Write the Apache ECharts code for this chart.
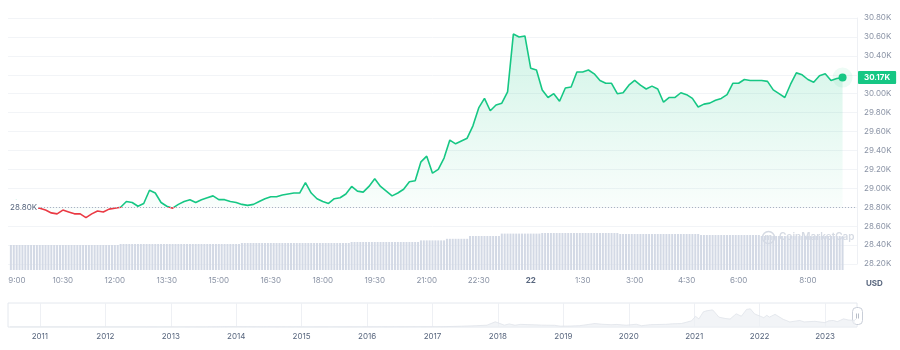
<!DOCTYPE html>
<html>
<head>
<meta charset="utf-8">
<script src="https://cdn.jsdelivr.net/npm/echarts@6/dist/echarts.min.js"></script>
<style>
  html, body { margin: 0; padding: 0; background: #fff; }
  #chart { width: 900px; height: 350px; }
</style>
</head>
<body>
<div id="chart"></div>
<script>
// BTC / USD, last 24 hours. Times are minutes after midnight of the 21st.
const priceStartMinute = 540;   // 9:00
const priceStepMinutes = 10;
// Price in thousands of USD, one sample every 10 minutes
const prices = [
  28.86, 28.87, 28.84, 28.81, 28.79, 28.79, 28.77, 28.74, 28.73, 28.77,
  28.75, 28.73, 28.73, 28.69, 28.73, 28.76, 28.75, 28.78, 28.79, 28.80,
  28.86, 28.85, 28.81, 28.84, 28.98, 28.95, 28.85, 28.81, 28.79, 28.83,
  28.86, 28.88, 28.85, 28.88, 28.90, 28.92, 28.88, 28.88, 28.86, 28.85,
  28.83, 28.82, 28.83, 28.86, 28.89, 28.91, 28.91, 28.93, 28.94, 28.95,
  28.95, 29.06, 28.95, 28.89, 28.86, 28.84, 28.89, 28.90, 28.94, 29.02,
  28.97, 28.96, 29.02, 29.10, 29.02, 28.97, 28.92, 28.95, 28.99, 29.07,
  29.08, 29.28, 29.34, 29.16, 29.20, 29.32, 29.51, 29.47, 29.50, 29.53,
  29.66, 29.85, 29.95, 29.82, 29.88, 29.90, 30.02, 30.63, 30.60, 30.61,
  30.27, 30.25, 30.04, 29.96, 30.00, 29.92, 30.06, 30.07, 30.23, 30.23,
  30.25, 30.21, 30.14, 30.11, 30.11, 30.00, 30.01, 30.09, 30.14, 30.09,
  30.05, 30.08, 30.05, 29.91, 29.96, 29.96, 30.01, 29.99, 29.95, 29.86,
  29.89, 29.90, 29.93, 29.95, 29.99, 30.11, 30.11, 30.15, 30.14, 30.14,
  30.14, 30.13, 30.04, 30.00, 29.96, 30.10, 30.22, 30.20, 30.15, 30.12,
  30.19, 30.21, 30.14, 30.16, 30.17
];
const openPrice = 28.80;

// Rolling 24h volume in billions of USD, one bar every 5 minutes
const volumeStartMinute = 540;
const volumeStepMinutes = 5;
const volumes = [
  12.5, 12.5, 12.5, 12.5, 12.5, 12.5, 12.5, 12.5, 12.5, 12.5,
  12.5, 12.5, 12.5, 12.5, 12.5, 12.5, 12.5, 12.5, 12.5, 12.5,
  12.5, 12.5, 12.5, 12.5, 12.5, 12.5, 12.5, 12.5, 12.5, 12.5,
  12.5, 12.5, 12.5, 12.5, 12.5, 12.5, 12.5, 12.5,
  13.0, 13.0, 13.0, 13.0, 13.0, 13.0, 13.0, 13.0, 13.0, 13.0,
  13.0, 13.0, 13.0, 13.0, 13.0, 13.0, 13.0, 13.0, 13.0, 13.0,
  13.0, 13.0, 13.0, 13.0, 13.0, 13.0, 13.0, 13.0, 13.0, 13.0,
  13.0, 13.0, 13.0, 13.0, 13.0, 13.0, 13.0, 13.0, 13.0, 13.0,
  13.0, 13.0,
  13.5, 13.5, 13.5, 13.5, 13.5, 13.5, 13.5, 13.5, 13.5, 13.5,
  13.5, 13.5, 13.5, 13.5, 13.5, 13.5, 13.5, 13.5, 13.5, 13.5,
  13.5, 13.5, 13.5, 13.5, 13.5, 13.5, 13.5, 13.5, 13.5, 13.5,
  13.5, 13.5, 13.5, 13.5, 13.5, 13.5, 13.5, 13.5,
  14.0, 14.0, 14.0, 14.0, 14.0, 14.0, 14.0, 14.0, 14.0, 14.0,
  14.0, 14.0, 14.0, 14.0, 14.0, 14.0, 14.0, 14.0, 14.0, 14.0,
  14.0, 14.0, 14.0, 14.0,
  14.8, 14.8, 14.8, 14.8, 14.8, 14.8, 14.8, 14.8, 14.8,
  15.6, 15.6, 15.6, 15.6, 15.6, 15.6, 15.6, 15.6,
  17.0, 17.0, 17.0, 17.0, 17.0, 17.0, 17.0, 17.0, 17.0, 17.0, 17.0,
  18.2, 18.2, 18.2, 18.2, 18.2, 18.2, 18.2, 18.2, 18.2, 18.2,
  18.2, 18.2, 18.2, 18.2,
  18.5, 18.5, 18.5, 18.5, 18.5, 18.5, 18.5, 18.5, 18.5, 18.5,
  18.5, 18.5, 18.5, 18.5, 18.5, 18.5, 18.5, 18.5, 18.5, 18.5,
  18.5, 18.5, 18.5, 18.5, 18.5, 18.5, 18.5,
  18.0, 18.0, 18.0, 18.0, 18.0, 18.0, 18.0, 18.0, 18.0, 18.0,
  18.0, 18.0, 18.0, 18.0, 18.0, 18.0, 18.0, 18.0, 18.0, 18.0,
  18.0, 18.0, 18.0, 18.0, 18.0, 18.0, 18.0, 18.0,
  17.5, 17.5, 17.5, 17.5, 17.5, 17.5, 17.5, 17.5, 17.5, 17.5,
  17.5, 17.5, 17.5, 17.5, 17.5, 17.5, 17.5, 17.5, 17.5, 17.5, 17.5,
  17.0, 17.0, 17.0, 17.0, 17.0, 17.0, 17.0, 17.0, 17.0, 17.0,
  17.0, 17.0, 17.0, 17.0, 17.0, 17.0, 17.0, 17.0, 17.0, 17.0,
  17.0, 17.0, 17.0, 17.0, 17.0, 17.0, 17.0, 17.0, 17.0
];

// Time axis ticks (minutes) and their labels
const timeTicks = [540, 630, 720, 810, 900, 990, 1080, 1170, 1260, 1350, 1440, 1530, 1620, 1710, 1800, 1920];
const timeLabels = ['9:00', '10:30', '12:00', '13:30', '15:00', '16:30', '18:00', '19:30', '21:00', '22:30', '22', '1:30', '3:00', '4:30', '6:00', '8:00'];

// Price axis ticks, thousands of USD
const priceMin = 28.2, priceMax = 30.8, priceInterval = 0.2;

// Full price history for the overview strip (USD)
const historyDates = [
  '2010-07-18', '2011-06-08', '2011-11-18', '2012-08-17', '2013-04-09', '2013-07-05', '2013-12-04',
  '2014-06-01', '2015-01-14', '2015-12-01', '2016-06-17', '2016-12-31', '2017-03-01', '2017-06-12',
  '2017-09-01', '2017-11-01', '2017-12-17', '2018-02-06', '2018-03-05', '2018-04-06', '2018-05-05',
  '2018-07-25', '2018-09-01', '2018-11-13', '2018-12-15', '2019-02-07', '2019-04-02', '2019-06-26',
  '2019-08-01', '2019-09-24', '2019-10-26', '2019-12-17', '2020-02-12', '2020-03-12', '2020-05-01',
  '2020-07-26', '2020-09-01', '2020-10-21', '2020-12-17', '2021-01-08', '2021-01-27', '2021-02-21',
  '2021-03-13', '2021-04-14', '2021-05-19', '2021-06-22', '2021-07-20', '2021-08-23', '2021-09-21',
  '2021-10-20', '2021-11-10', '2021-12-04', '2022-01-24', '2022-02-10', '2022-02-24', '2022-03-28',
  '2022-05-12', '2022-06-18', '2022-08-13', '2022-09-06', '2022-11-05', '2022-11-09', '2022-12-31',
  '2023-01-21', '2023-02-16', '2023-03-10', '2023-04-14', '2023-05-12', '2023-06-15', '2023-06-22'
];
const historyPrices = [
  0.09, 29, 2.1, 15, 230, 68, 1150,
  630, 180, 380, 760, 960, 1200, 2900,
  4900, 6700, 19500, 6900, 11500, 6600, 9800,
  8200, 7000, 6300, 3200, 3400, 5000, 13000,
  10500, 8500, 9500, 6700, 10300, 4900, 8800,
  10000, 11900, 13000, 23000, 40000, 30500, 57000,
  61000, 64000, 37000, 32000, 29800, 49500, 40500,
  66000, 68000, 49000, 35000, 44000, 37000, 47500,
  29000, 19000, 24500, 19000, 21300, 16000, 16500,
  23000, 24500, 20000, 30500, 26200, 25000, 30170
];
const historyYears = [2011, 2012, 2013, 2014, 2015, 2016, 2017, 2018, 2019, 2020, 2021, 2022, 2023];

const GREEN = '#16c784';
const RED = '#ea3943';
const LABEL_GRAY = '#8a93a5';

// Calendar date -> fractional year, so the overview strip can use a plain value axis
function toYear(dateStr) {
  const [y, m, d] = dateStr.split('-').map(Number);
  const start = Date.UTC(y, 0, 1), end = Date.UTC(y + 1, 0, 1);
  return y + (Date.UTC(y, m - 1, d) - start) / (end - start);
}

const priceData = prices.map((p, i) => [priceStartMinute + i * priceStepMinutes, p]);
const volumeData = volumes.map((v, i) => [volumeStartMinute + i * volumeStepMinutes, v]);
const historyData = historyDates.map((d, i) => [toYear(d), historyPrices[i]]);
const lastPoint = priceData[priceData.length - 1];

const fmtK = v => v.toFixed(2) + 'K';
const X_MIN = 535, X_MAX = 2005;
const YEAR_MIN = toYear('2010-07-07'), YEAR_MAX = toYear('2023-06-28');

const chart = echarts.init(document.getElementById('chart'), null, { renderer: 'canvas' });

chart.setOption({
  animation: false,
  backgroundColor: '#fff',
  textStyle: { fontFamily: 'Inter, "Noto Sans", sans-serif' },
  grid: [
    { left: 8, right: 43, top: 18, bottom: 86 },
    { left: 8, right: 43, top: 200, bottom: 80 },
    { left: 8, right: 43, top: 303, height: 24, show: true, borderColor: '#e4e8ee', borderWidth: 1 }
  ],
  xAxis: [
    {
      gridIndex: 0, type: 'value', min: X_MIN, max: X_MAX,
      axisLine: { show: false }, axisTick: { show: false }, axisLabel: { show: false }, splitLine: { show: false }
    },
    {
      gridIndex: 1, type: 'value', min: X_MIN, max: X_MAX,
      axisLine: { show: false }, axisTick: { show: false, customValues: timeTicks },
      splitLine: { show: false },
      axisLabel: {
        customValues: timeTicks,
        margin: 7,
        fontSize: 8,
        color: LABEL_GRAY,
        formatter: v => {
          const i = timeTicks.indexOf(v);
          const t = timeLabels[i];
          if (i === 0) return '{first|' + t + '}';
          if (t === '22') return '{day|' + t + '}';
          return t;
        },
        rich: {
          first: { fontSize: 8, color: LABEL_GRAY, padding: [0, 0, 0, 12] },
          day: { fontSize: 8, color: '#58667e', fontWeight: 'bold' }
        }
      }
    },
    {
      gridIndex: 2, type: 'value', min: YEAR_MIN, max: YEAR_MAX,
      axisLine: { show: false },
      axisTick: { show: false, customValues: historyYears },
      splitLine: { show: true, lineStyle: { color: '#eef0f4' } },
      axisLabel: {
        customValues: historyYears,
        margin: 6,
        fontSize: 8,
        color: '#58667e',
        formatter: v => String(Math.round(v))
      }
    }
  ],
  yAxis: [
    {
      gridIndex: 0, type: 'value', position: 'right',
      min: priceMin, max: priceMax, interval: priceInterval,
      axisLine: { show: true, lineStyle: { color: '#eef0f4' } },
      axisTick: { show: false },
      splitLine: { show: true, lineStyle: { color: '#f2f4f7' } },
      axisLabel: { margin: 7, fontSize: 8, color: LABEL_GRAY, formatter: fmtK }
    },
    {
      gridIndex: 1, type: 'value', min: 0, max: 35,
      axisLine: { show: false }, axisTick: { show: false }, axisLabel: { show: false }, splitLine: { show: false }
    },
    {
      gridIndex: 2, type: 'value', min: 0, max: 90000,
      axisLine: { show: false }, axisTick: { show: false }, axisLabel: { show: false }, splitLine: { show: false }
    }
  ],
  series: [
    {
      id: 'price',
      name: 'Price',
      type: 'line',
      xAxisIndex: 0, yAxisIndex: 0,
      data: priceData,
      showSymbol: false,
      smooth: false,
      z: 3,
      lineStyle: { width: 1.6, color: GREEN },
      areaStyle: {
        origin: openPrice,
        color: new echarts.graphic.LinearGradient(0, 0, 0, 1, [
          { offset: 0, color: 'rgba(22,199,132,0.28)' },
          { offset: 1, color: 'rgba(22,199,132,0.02)' }
        ])
      },
      markLine: {
        silent: true,
        symbol: 'none',
        z: 5,
        data: [
          {
            yAxis: openPrice,
            lineStyle: { color: '#a9b2c2', type: [1, 2], width: 1 },
            label: {
              show: true,
              position: 'insideStartTop',
              distance: 0,
              verticalAlign: 'middle',
              offset: [0, 0],
              formatter: () => fmtK(openPrice),
              fontSize: 8,
              color: '#58667e',
              backgroundColor: '#fff',
              padding: [4, 1, 3, 2]
            }
          },
          {
            yAxis: lastPoint[1],
            lineStyle: { color: 'rgba(0,0,0,0)', width: 0 },
            label: {
              show: true,
              position: 'end',
              distance: 1,
              formatter: () => fmtK(lastPoint[1]),
              fontSize: 8,
              fontWeight: 'bold',
              color: '#fff',
              backgroundColor: GREEN,
              padding: [3, 6, 2, 6],
              borderRadius: 1
            }
          }
        ]
      },
      markPoint: {
        silent: true,
        label: { show: false },
        data: [
          { coord: lastPoint, symbol: 'circle', symbolSize: 20, itemStyle: { color: 'rgba(22,199,132,0.08)' } },
          { coord: lastPoint, symbol: 'circle', symbolSize: 8, itemStyle: { color: GREEN } }
        ]
      }
    },
    {
      name: 'Volume',
      type: 'bar',
      xAxisIndex: 1, yAxisIndex: 1,
      data: volumeData,
      barWidth: 2,
      itemStyle: { color: '#d3d9e5' },
      z: 1
    },
    {
      name: 'History',
      type: 'line',
      xAxisIndex: 2, yAxisIndex: 2,
      data: historyData,
      showSymbol: false,
      lineStyle: { color: '#dfe3ea', width: 0.8 },
      areaStyle: { color: '#eceff3' }
    }
  ],
  graphic: [
    {
      type: 'text', left: 866, top: 280,
      style: { text: 'USD', fontSize: 8, fill: '#58667e', fontWeight: 'bold', fontFamily: 'Inter, sans-serif' }
    },
    {
      type: 'group', left: 760, top: 229, silent: true,
      children: [
        { type: 'circle', shape: { cx: 6.5, cy: 6.5, r: 6 }, style: { fill: 'none', stroke: '#d5dae3', lineWidth: 1.5 } },
        { type: 'text', x: 2.6, y: 1.8, style: { text: 'm', fontSize: 8.5, fontWeight: 'bold', fill: '#d5dae3', fontFamily: 'Inter, sans-serif' } },
        { type: 'text', x: 17, y: 1, style: { text: 'CoinMarketCap', fontSize: 10, fontWeight: 600, fill: '#d5dae3', fontFamily: 'Inter, sans-serif' } }
      ]
    },
    {
      type: 'group', left: 852, top: 307, silent: true,
      children: [
        { type: 'rect', shape: { x: 0, y: 0, width: 10, height: 17, r: 4 }, style: { fill: '#fff', stroke: '#c9ced8', lineWidth: 1 } },
        { type: 'line', shape: { x1: 4, y1: 6, x2: 4, y2: 11 }, style: { stroke: '#a6adba', lineWidth: 0.8 } },
        { type: 'line', shape: { x1: 6, y1: 6, x2: 6, y2: 11 }, style: { stroke: '#a6adba', lineWidth: 0.8 } }
      ]
    }
  ]
});

// Colour the price line red below the opening price and green above it,
// splitting the gradient at the pixel row of the opening price.
const chartHeight = chart.getHeight();
const openY = chart.convertToPixel({ gridIndex: 0 }, [X_MIN, openPrice])[1];
const split = openY / chartHeight;
chart.setOption({
  series: [{
    id: 'price',
    lineStyle: {
      color: new echarts.graphic.LinearGradient(0, 0, 0, chartHeight, [
        { offset: 0, color: GREEN },
        { offset: split, color: GREEN },
        { offset: split, color: RED },
        { offset: 1, color: RED }
      ], true)
    }
  }]
});
</script>
</body>
</html>
